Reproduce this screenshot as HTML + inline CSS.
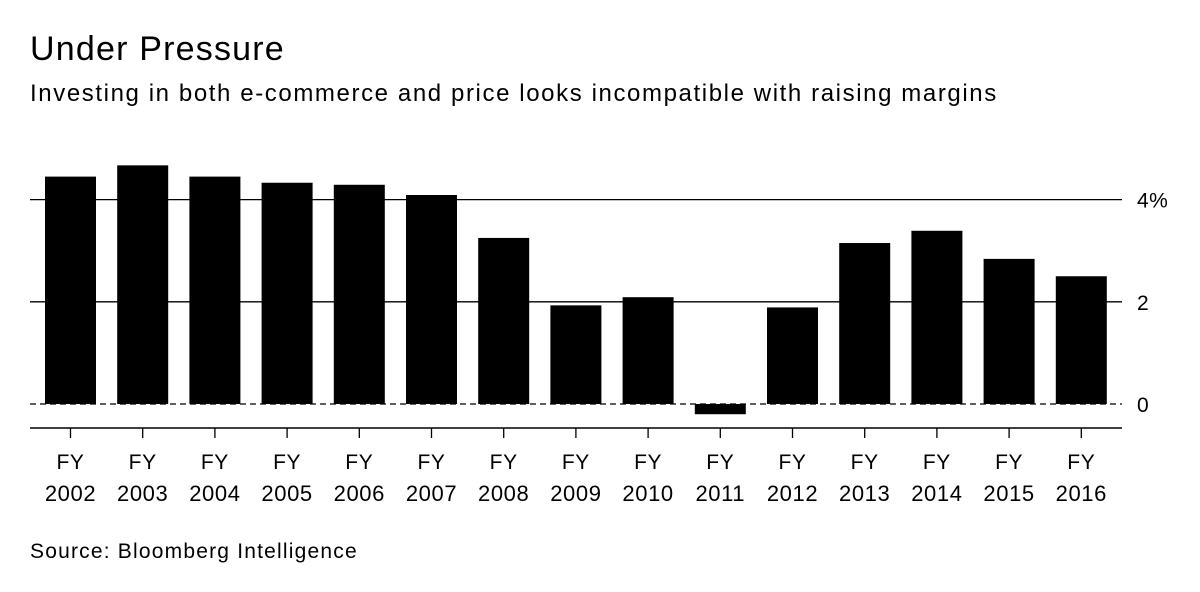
<!DOCTYPE html>
<html><head><meta charset="utf-8"><style>
body{margin:0;background:#fff;font-family:"Liberation Sans",sans-serif;}
svg text{font-family:"Liberation Sans",sans-serif;fill:#000;}
</style></head><body>
<svg width="1200" height="587">
<text x="30" y="60" font-size="34" letter-spacing="1.2">Under Pressure</text>
<text x="30" y="101" font-size="24" letter-spacing="1.6">Investing in both e-commerce and price looks incompatible with raising margins</text>
<g id="grid"></g><g id="bars"></g><g id="xaxis"></g>
<text x="30" y="558" font-size="21" letter-spacing="1.2">Source: Bloomberg Intelligence</text>
</svg>
<script>
const categories=["2002","2003","2004","2005","2006","2007","2008","2009","2010","2011","2012","2013","2014","2015","2016"];
const values=[4.45,4.67,4.45,4.33,4.29,4.09,3.25,1.93,2.09,-0.2,1.89,3.15,3.39,2.84,2.50];
const ticks=[0,2,4];
const tickLabels=["0","2","4%"];
const NS="http://www.w3.org/2000/svg";
function y(v){return 404-v*51.1;}
function x(i){return 70.5+i*72.2;}
function mk(t,a,p){const e=document.createElementNS(NS,t);for(const k in a)e.setAttribute(k,a[k]);p.appendChild(e);return e;}
const g=document.getElementById('grid'),b=document.getElementById('bars'),xa=document.getElementById('xaxis');
ticks.forEach((t,i)=>{
 const l=mk('line',{x1:30,x2:1122,y1:y(t),y2:y(t),stroke:'#000','stroke-width':1.3},g);
 if(t===0)l.setAttribute('stroke-dasharray','6,4');
 
 
 const tx=mk('text',{x:1137,y:y(t)+8,'font-size':21,'letter-spacing':0.5},g);tx.textContent=tickLabels[i];
 
 
});
values.forEach((v,i)=>{
 const top=Math.min(y(v),y(0)),h=Math.abs(y(v)-y(0));
 const r=mk('rect',{x:x(i)-25.5,y:top,width:51,height:h,fill:'#000'},b);
 
 
});
const ax=mk('line',{x1:30,x2:1122,y1:428,y2:428,stroke:'#000','stroke-width':1.5},xa);


categories.forEach((c,i)=>{
 const tk=mk('line',{x1:x(i),x2:x(i),y1:428,y2:438,stroke:'#000','stroke-width':1.3},xa);
 
 
 const t1=mk('text',{x:x(i),y:469,'font-size':21,'letter-spacing':0.6,'text-anchor':'middle'},xa);t1.textContent='FY';
 
 
 const t2=mk('text',{x:x(i),y:501,'font-size':22,'letter-spacing':0.6,'text-anchor':'middle'},xa);t2.textContent=c;
 
 
});
</script>
</body></html>
